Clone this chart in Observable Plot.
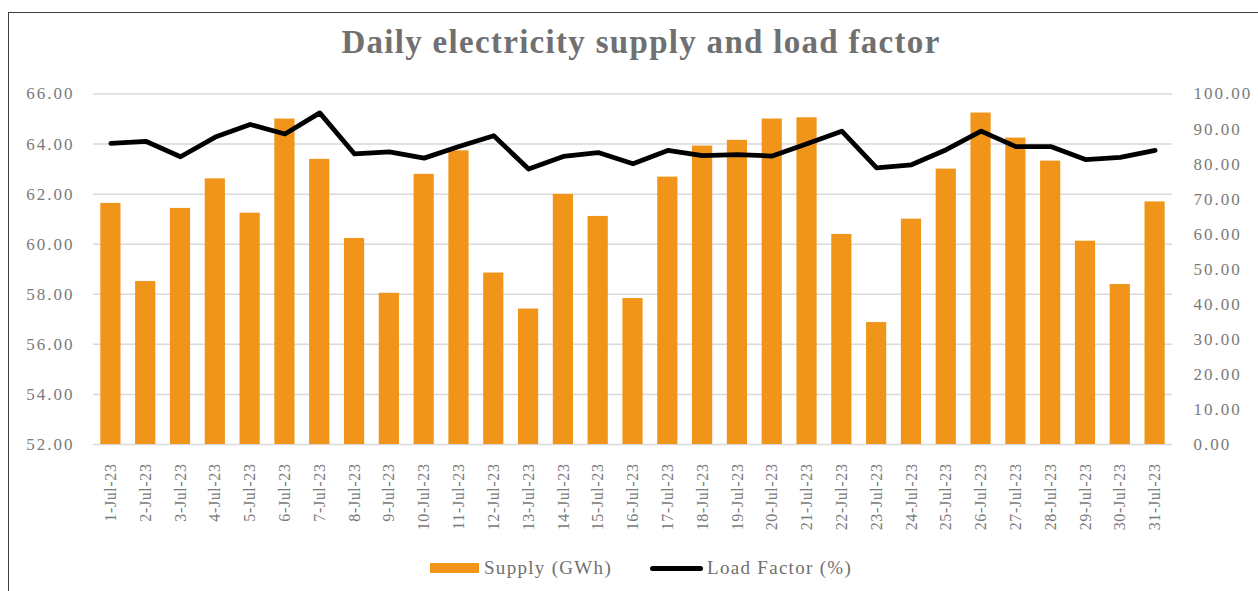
<!DOCTYPE html>
<html>
<head>
<meta charset="utf-8">
<script src="https://cdn.jsdelivr.net/npm/d3@7"></script>
<script src="https://cdn.jsdelivr.net/npm/@observablehq/plot@0.6"></script>
<style>
  html, body { margin: 0; padding: 0; background: #fff; }
  #wrap { position: relative; width: 1258px; height: 591px; overflow: hidden; background: #fff; font-family: "Liberation Serif", serif; }
  #frame { position: absolute; left: 8px; top: 12px; width: 1400px; height: 800px; border: 1.5px solid #404040; box-sizing: border-box; }
  #title { position: absolute; left: 0; width: 1282px; top: 24px; text-align: center; font-size: 33px; font-weight: bold; color: #707070; letter-spacing: 1.3px; }
  #chart { position: absolute; left: 0; top: 0; }
  #legend { position: absolute; top: 556px; left: 0; width: 1258px; height: 24px; }
  .lg { position: absolute; font-size: 19px; color: #6f6f6f; letter-spacing: 1.3px; top: 0; line-height: 24px; }
  #chart g[aria-label="y-axis tick label"] text { letter-spacing: 2px; }
  #chart g[aria-label="x-axis tick label"] text { letter-spacing: 0.6px; }
</style>
</head>
<body>
<div id="wrap">
  <div id="frame"></div>
  <div id="chart"></div>
  <div id="title">Daily electricity supply and load factor</div>
  <div id="legend">
    <div style="position:absolute;left:430px;top:7px;width:49px;height:10px;background:#F0951A;"></div>
    <div class="lg" style="left:484px;">Supply (GWh)</div>
    <div style="position:absolute;left:650px;top:9.5px;width:53px;height:5px;background:#000;border-radius:2.5px;"></div>
    <div class="lg" style="left:707px;">Load Factor (%)</div>
  </div>
</div>
<script>
const dates = ["1-Jul-23","2-Jul-23","3-Jul-23","4-Jul-23","5-Jul-23","6-Jul-23","7-Jul-23","8-Jul-23","9-Jul-23","10-Jul-23","11-Jul-23","12-Jul-23","13-Jul-23","14-Jul-23","15-Jul-23","16-Jul-23","17-Jul-23","18-Jul-23","19-Jul-23","20-Jul-23","21-Jul-23","22-Jul-23","23-Jul-23","24-Jul-23","25-Jul-23","26-Jul-23","27-Jul-23","28-Jul-23","29-Jul-23","30-Jul-23","31-Jul-23"];
const supply = [61.63,58.51,61.43,62.61,61.24,65.00,63.39,60.23,58.04,62.79,63.73,58.85,57.41,61.99,61.11,57.83,62.68,63.92,64.15,65.00,65.05,60.39,56.87,61.00,63.00,65.24,64.24,63.32,60.12,58.39,61.69];
const loadFactor = [85.9,86.5,82.1,87.7,91.3,88.6,94.6,82.9,83.5,81.7,85.0,88.1,78.6,82.2,83.3,80.1,83.9,82.4,82.7,82.3,85.8,89.4,78.9,79.8,84.1,89.4,85.0,85.0,81.3,81.9,83.9];
const supplyTicks = [52,54,56,58,60,62,64,66];
const lfTicks = [0,10,20,30,40,50,60,70,80,90,100];

const yMin = 52, yMax = 66;
const lfToY = v => yMin + v * (yMax - yMin) / 100;
const yToLf = y => (y - yMin) * 100 / (yMax - yMin);

const data = dates.map((d, i) => ({date: d, supply: supply[i], lf: loadFactor[i]}));

const tickFont = {fontFamily: "Liberation Serif, serif", fontSize: 17, fill: "#7a7a7a"};

const chart = Plot.plot({
  width: 1258,
  height: 591,
  marginLeft: 93,
  marginRight: 86,
  marginTop: 93.5,
  marginBottom: 147,
  style: {background: "transparent", overflow: "visible"},
  x: {type: "band", domain: dates, paddingInner: 0.42, paddingOuter: 0.21, round: false, label: null},
  y: {domain: [yMin, yMax], label: null},
  marks: [
    Plot.ruleY(supplyTicks, {stroke: "#d9d9d9", strokeWidth: 1.5}),
    Plot.barY(data, {x: "date", y1: yMin, y2: "supply", fill: "#F0951A"}),
    Plot.line(data, {x: "date", y: d => lfToY(d.lf), stroke: "#000", strokeWidth: 4.8, strokeLinejoin: "round", strokeLinecap: "round"}),
    Plot.axisY(supplyTicks, {anchor: "left", tickSize: 0, tickPadding: 19, tickFormat: d => d.toFixed(2), label: null, ...tickFont}),
    Plot.axisY(lfTicks.map(lfToY), {anchor: "right", tickSize: 0, tickPadding: 21, tickFormat: d => yToLf(d).toFixed(2), label: null, ...tickFont}),
    Plot.axisX({tickRotate: -90, tickSize: 0, tickPadding: 19, label: null, fontFamily: "Liberation Serif, serif", fontSize: 16, fill: "#7a7a7a"})
  ]
});
document.getElementById("chart").appendChild(chart);
</script>
</body>
</html>
